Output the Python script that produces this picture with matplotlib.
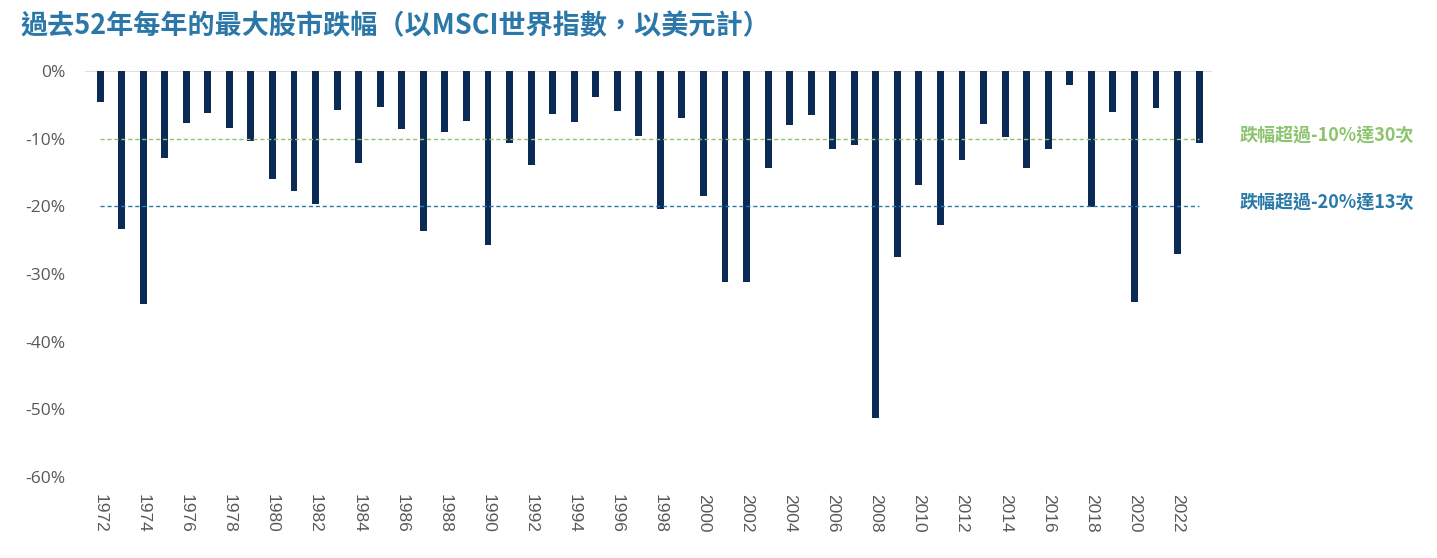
import matplotlib
matplotlib.use("Agg")
import matplotlib.pyplot as plt
from matplotlib.transforms import blended_transform_factory

plt.rcParams['font.family'] = ['Noto Sans CJK TC', 'DejaVu Sans']

# 每年最大跌幅 (%), 1972-2023
years = list(range(1972, 2024))
drawdowns = [
    -4.6, -23.4, -34.5, -12.9, -7.7, -6.2, -8.4, -10.3, -15.9, -17.7,
    -19.6, -5.7, -13.6, -5.3, -8.5, -23.6, -9.0, -7.4, -25.7, -10.7,
    -13.9, -6.4, -7.5, -3.9, -5.9, -9.6, -20.4, -6.9, -18.5, -31.2,
    -31.2, -14.4, -8.0, -6.5, -11.6, -10.9, -51.3, -27.5, -16.8, -22.7,
    -13.1, -7.9, -9.7, -14.4, -11.6, -2.0, -20.1, -6.1, -34.1, -5.5,
    -27.1, -10.7,
]
yticks = [0, -10, -20, -30, -40, -50, -60]
ref_levels = [-10, -20]
ref_labels = ["跌幅超過-10%達30次", "跌幅超過-20%達13次"]
ref_colors = ["#8cc46e", "#2a7aa8"]
title = "過去52年每年的最大股市跌幅（以MSCI世界指數，以美元計）"

fig = plt.figure(figsize=(14.37, 5.58), dpi=100)
ax = fig.add_axes([85 / 1437, 1 - 477 / 558, 1127 / 1437, 406 / 558])

x = list(range(len(years)))
ax.bar(x, drawdowns, width=0.32, color="#0b2a56", zorder=3)

ax.set_xlim(-0.7, len(years) - 0.4)
ax.set_ylim(-60, 0)

ax.axhline(0, color="#d9d9d9", linewidth=1.2, zorder=2)
trans = blended_transform_factory(fig.transFigure, ax.transData)
for lvl, lab, col in zip(ref_levels, ref_labels, ref_colors):
    ax.hlines(lvl, 0, len(years) - 1, colors=col, linestyles=(0, (3, 2)),
              linewidth=1.0, zorder=4)
    ax.text(1240 / 1437, lvl + 0.6, lab, color=col, fontsize=13,
            fontweight="bold", va="center", ha="left",
            transform=trans, clip_on=False)

ax.set_yticks(yticks)
ax.set_yticklabels([f"{v}%" for v in yticks], family=["Open Sans"],
                   fontsize=12.5, color="#595959")
ax.set_xticks(x[::2])
ax.set_xticklabels([str(y) for y in years[::2]], rotation=270,
                   family=["Liberation Sans"], fontsize=12.5, color="#595959")
ax.tick_params(axis="both", length=0)
ax.tick_params(axis="y", pad=14)
ax.tick_params(axis="x", pad=12)
for s in ax.spines.values():
    s.set_visible(False)

fig.text(20 / 1437, 1 - 26 / 558, title, color="#2a77a8", fontsize=19.5,
         fontweight="bold", va="center", ha="left")

fig.savefig("out.png", dpi=100, facecolor="white")
